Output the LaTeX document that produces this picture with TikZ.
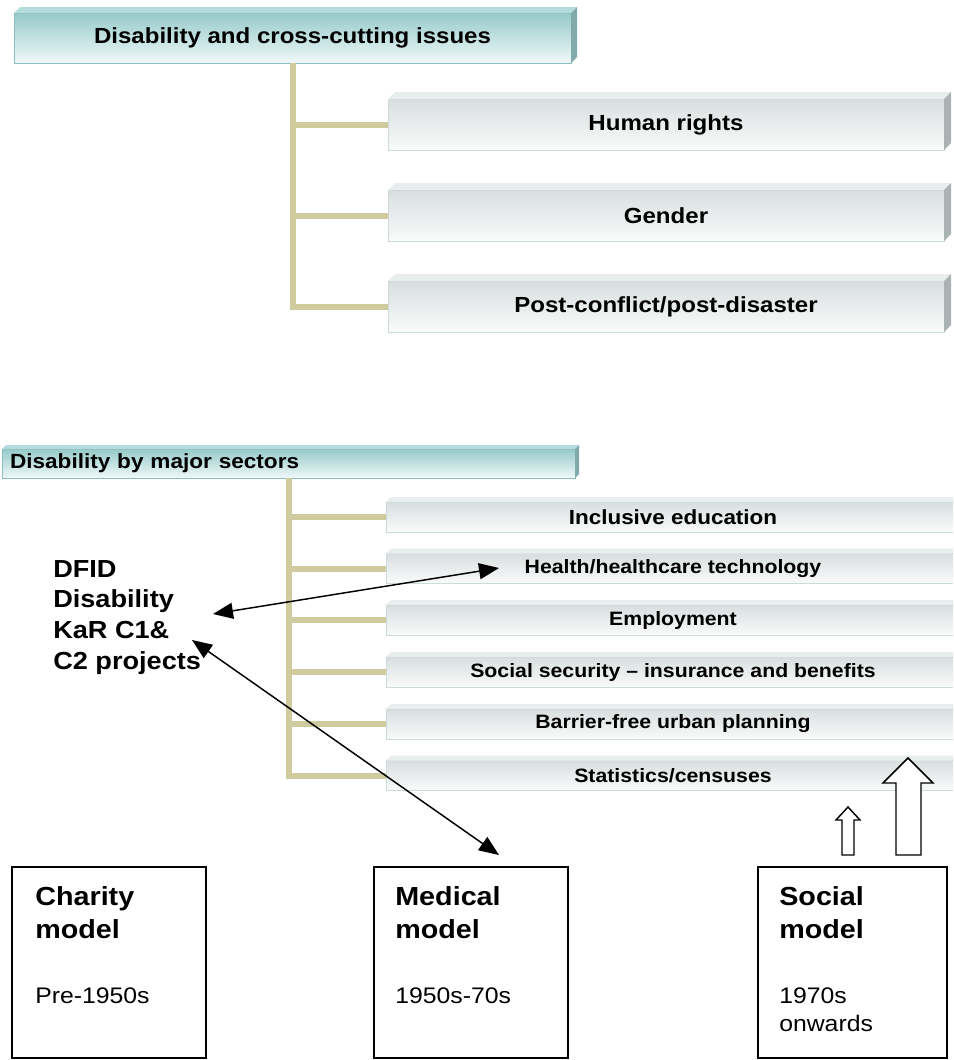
\documentclass[tikz,border=0pt]{standalone}
\usepackage{fontspec}
\setmainfont{Liberation Sans}[FakeStretch=1.1]
\usetikzlibrary{arrows.meta,calc}
\definecolor{conncol}{RGB}{208,203,158}
\definecolor{gtop}{RGB}{216,222,222}
\definecolor{gbot}{RGB}{250,251,251}
\definecolor{gedge}{RGB}{205,218,218}
\definecolor{gface}{RGB}{232,237,237}
\definecolor{gside}{RGB}{170,178,178}
\definecolor{htop}{RGB}{150,202,202}
\definecolor{hbot}{RGB}{240,248,248}
\definecolor{hedge}{RGB}{140,190,190}
\definecolor{hface}{RGB}{180,220,220}
\definecolor{hside}{RGB}{130,170,170}
\newcommand\pxl[1]{#1*0.75pt}
\newcommand\bevelfaces[4]{%
  \fill[#3] (#1.north west) -- ++(#2,-#2) -- ($(#1.north east)+(#2,-#2)$) -- (#1.north east) -- cycle;
  \fill[#4] (#1.north east) -- ++(#2,-#2) -- ($(#1.south east)+(#2,-#2)$) -- (#1.south east) -- cycle;}
\begin{document}
\begin{tikzpicture}[x=0.75pt,y=-0.75pt,
  gbox/.style={draw=gedge, line width=0.6pt, top color=gtop, bottom color=gbot,
    inner sep=0pt, outer sep=0pt, font=\bfseries\fontsize{16.4}{19}\selectfont},
  hbox/.style={gbox, draw=hedge, top color=htop, bottom color=hbot},
  sbox/.style={gbox, minimum width=\pxl{574}, minimum height=\pxl{30},
    font=\bfseries\fontsize{14.5}{17}\selectfont},
  conn/.style={draw=conncol, line width=4.5pt},
  arr/.style={line width=1.1pt, {Triangle[length=15pt,width=12pt]}-{Triangle[length=15pt,width=12pt]}},
  modelbox/.style={draw=black, line width=1.5pt, minimum height=\pxl{191}, inner sep=0pt},
  mtitle/.style={anchor=north west, align=left, inner sep=0pt, font=\bfseries\fontsize{19.6}{25}\selectfont},
  mdate/.style={anchor=north west, align=left, inner sep=0pt, font=\fontsize{16.9}{21}\selectfont},
  blockarrow/.style={draw=black, fill=white, line width=1.1pt, line join=miter}
]
\useasboundingbox (0,0) rectangle (953,1060);
\fill[white] (0,0) rectangle (953,1060);
\clip (0,0) rectangle (953,1060);

% ---------- section 1 ----------
\node[hbox, minimum width=\pxl{557}, minimum height=\pxl{50}] (hdr1) at (292.5,38) {Disability and cross-cutting issues};
\bevelfaces{hdr1}{6}{hface}{hside}

\node[gbox, minimum width=\pxl{556}, minimum height=\pxl{51}] (hr) at (666,124.5) {Human rights};
\node[gbox, minimum width=\pxl{556}, minimum height=\pxl{51}] (gender) at (666,215.5) {Gender};
\node[gbox, minimum width=\pxl{556}, minimum height=\pxl{51}] (post) at (666,306.5) {Post-conflict/post-disaster};
\bevelfaces{hr}{7}{gface}{gside}
\bevelfaces{gender}{7}{gface}{gside}
\bevelfaces{post}{7}{gface}{gside}

\draw[conn] (hdr1.south) |- (post.west);
\draw[conn] (hdr1.south |- hr.west) -- (hr.west);
\draw[conn] (hdr1.south |- gender.west) -- (gender.west);

% ---------- section 2 ----------
\node[hbox, minimum width=\pxl{573}, minimum height=\pxl{29}, text width=\pxl{557}, align=left,
  font=\bfseries\fontsize{15.4}{18}\selectfont] (hdr2) at (288.5,463.5) {Disability by major sectors};
\bevelfaces{hdr2}{4}{hface}{hside}

\node[sbox, font=\bfseries\fontsize{15.3}{17}\selectfont] (s1) at (673,517) {Inclusive education};
\node[sbox] (s2) at (673,568.5) {Health/healthcare technology};
\node[sbox] (s3) at (673,620) {Employment};
\node[sbox] (s4) at (673,672) {Social security – insurance and benefits};
\node[sbox] (s5) at (673,724) {Barrier-free urban planning};
\node[sbox] (s6) at (673,775.5) {Statistics/censuses};
\foreach \s in {s1,s2,s3,s4,s5,s6}{\bevelfaces{\s}{5}{gface}{gside}}

\draw[conn] (hdr2.south) |- (s6.west);
\foreach \s in {s1,s2,s3,s4,s5}{\draw[conn] (hdr2.south |- \s.west) -- (\s.west);}

% ---------- DFID text and arrows ----------
\node[anchor=north west, align=left, inner sep=0pt, font=\bfseries\fontsize{18.5}{23}\selectfont]
  (dfid) at (53,560) {DFID\\Disability\\KaR C1\&\\C2 projects};
\coordinate (a1s) at (213,614);
\coordinate (a1e) at (499,568);
\coordinate (a2s) at (192,640);
\coordinate (a2e) at (499,855);
\draw[arr] (a1s) -- (a1e);
\draw[arr] (a2s) -- (a2e);

% ---------- block arrows ----------
\draw[blockarrow] (848,807) -- (860,820) -- (854,820) -- (854,855) -- (842,855) -- (842,820) -- (836,820) -- cycle;
\draw[blockarrow] (908,758) -- (933,783) -- (921,783) -- (921,855) -- (896,855) -- (896,783) -- (883,783) -- cycle;

% ---------- model boxes ----------
\node[modelbox, minimum width=\pxl{194}] (charity) at (109,962.5) {};
\node[modelbox, minimum width=\pxl{194}] (medical) at (471,962.5) {};
\node[modelbox, minimum width=\pxl{189}] (social) at (852.5,962.5) {};

\node[mtitle] (charityT) at (35,886) {Charity\\model};
\node[mdate] (charityD) at (35,987) {Pre-1950s};
\node[mtitle] (medicalT) at (395,886) {Medical\\model};
\node[mdate] (medicalD) at (395,987) {1950s-70s};
\node[mtitle] (socialT) at (779,886) {Social\\model};
\node[mdate] (socialD) at (779,987) {1970s\\onwards};
\end{tikzpicture}
\end{document}
